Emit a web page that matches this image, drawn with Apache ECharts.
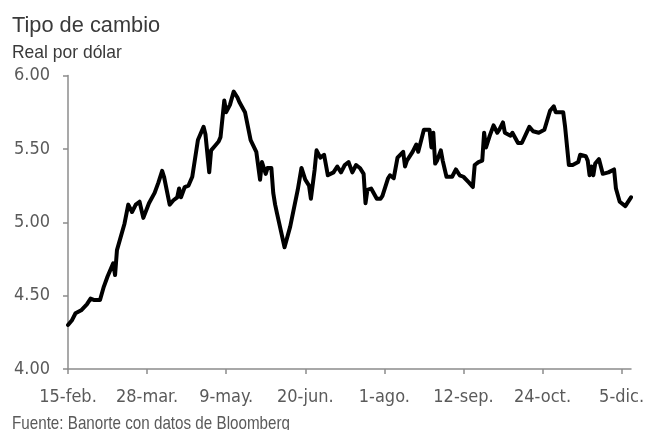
<!DOCTYPE html>
<html>
<head>
<meta charset="utf-8">
<script src="https://cdn.jsdelivr.net/npm/echarts@6/dist/echarts.min.js"></script>
<style>
  html, body { margin: 0; padding: 0; background: #fff; }
  #chart { width: 657px; height: 430px; }
</style>
</head>
<body>
<div id="chart"></div>
<script>
// Days counted from 15-feb.
const days = [
  0, 2, 4, 7, 10, 12, 13, 14, 17, 19, 21, 24, 25, 26, 27, 30, 32, 34, 36, 38,
  40, 43, 46, 48, 50, 51, 54, 56, 58, 59, 60, 62, 64, 66, 69, 72, 73, 75, 76, 78,
  80, 81, 83, 84, 86, 88, 90, 91, 94, 95, 97, 100, 102, 103, 105, 106, 108, 109, 110, 111,
  115, 118, 122, 123, 124, 126, 128, 129, 131, 132, 134, 136, 138, 139, 141, 143, 145, 147, 149, 151,
  153, 155, 157, 158, 159, 161, 164, 166, 167, 170, 171, 173, 175, 178, 179, 180, 183, 185, 186, 189,
  192, 193, 194, 195, 196, 198, 199, 201, 204, 206, 208, 210, 213, 215, 216, 218, 220, 221, 222, 224,
  226, 228, 229, 231, 232, 235, 236, 239, 241, 245, 247, 250, 253, 254, 256, 258, 259, 263, 264, 266,
  268, 271, 272, 275, 276, 277, 278, 279, 280, 282, 284, 287, 290, 291, 292, 293, 296, 297, 299
];

// Reales per US dollar
const rates = [
  4.30, 4.33, 4.38, 4.40, 4.44, 4.48, 4.49, 4.47, 4.47, 4.56, 4.63, 4.72, 4.64, 4.81, 4.82, 4.99, 5.12, 5.07, 5.12, 5.14,
  5.03, 5.13, 5.20, 5.27, 5.35, 5.31, 5.12, 5.15, 5.17, 5.23, 5.17, 5.24, 5.25, 5.31, 5.56, 5.65, 5.60, 5.34, 5.49, 5.52,
  5.55, 5.58, 5.83, 5.75, 5.80, 5.89, 5.85, 5.82, 5.75, 5.76, 5.56, 5.48, 5.29, 5.41, 5.33, 5.37, 5.37, 5.20, 5.12, 5.06,
  4.83, 4.97, 5.22, 5.23, 5.37, 5.29, 5.25, 5.16, 5.36, 5.49, 5.44, 5.46, 5.32, 5.33, 5.34, 5.38, 5.34, 5.39, 5.41, 5.34,
  5.39, 5.37, 5.33, 5.13, 5.22, 5.23, 5.16, 5.16, 5.18, 5.30, 5.32, 5.30, 5.44, 5.48, 5.38, 5.42, 5.48, 5.53, 5.48, 5.63,
  5.63, 5.51, 5.61, 5.40, 5.42, 5.49, 5.42, 5.31, 5.31, 5.36, 5.32, 5.31, 5.27, 5.24, 5.39, 5.41, 5.42, 5.61, 5.51, 5.59,
  5.66, 5.61, 5.63, 5.68, 5.61, 5.59, 5.61, 5.54, 5.54, 5.65, 5.62, 5.61, 5.63, 5.63, 5.76, 5.79, 5.75, 5.75, 5.65, 5.39,
  5.39, 5.41, 5.46, 5.45, 5.42, 5.32, 5.38, 5.32, 5.40, 5.43, 5.33, 5.34, 5.36, 5.23, 5.22, 5.14, 5.11, 5.13, 5.17
];

const tickDays = [0, 42, 84, 126, 168, 210, 252, 294];
const tickLabels = ['15-feb.', '28-mar.', '9-may.', '20-jun.', '1-ago.', '12-sep.', '24-oct.', '5-dic.'];

const NARROW = '"DejaVu Sans Condensed", "Liberation Sans Narrow", sans-serif';
const SANS = '"Liberation Sans", Arial, sans-serif';
const GREY = '#5a5a5a';
const AXIS = '#8c8c8c';

const points = days.map((d, i) => [d, rates[i]]);
const last = points.length - 1;
const seriesData = points.map((p, i) => i === last ? {
  value: p,
  label: {
    show: true,
    position: 'top',
    offset: [8, -3],
    formatter: () => rates[last].toFixed(2),
    color: GREY,
    fontFamily: NARROW,
    fontSize: 18
  }
} : p);

// Heading and source lines, set in a narrowed sans face
function heading(text, x, y, size, sx, color) {
  return {
    type: 'text', x: x, y: y, scaleX: sx, silent: true,
    style: { text: text, font: size + 'px ' + SANS, fill: color, verticalAlign: 'top', align: 'left' }
  };
}

const chart = echarts.init(document.getElementById('chart'), null, { renderer: 'canvas' });
chart.setOption({
  animation: false,
  backgroundColor: '#fff',
  graphic: [
    heading('Tipo de cambio', 12, 15, 22, 0.99, '#3a3a3a'),
    heading('Real por dólar', 12, 43, 19, 0.92, '#3a3a3a'),
    heading('Fuente: Banorte con datos de Bloomberg', 12, 414, 19, 0.8, GREY)
  ],
  grid: { left: 68, right: 26, top: 75.5, bottom: 61, containLabel: false },
  xAxis: {
    type: 'value',
    min: 0,
    max: 299,
    interval: 42,
    splitLine: { show: false },
    axisLine: { show: true, lineStyle: { color: AXIS, width: 1.5 } },
    axisTick: { show: true, length: 5, customValues: tickDays, lineStyle: { color: AXIS, width: 1.5 } },
    axisLabel: {
      customValues: tickDays,
      formatter: v => tickLabels[tickDays.indexOf(v)] || '',
      color: GREY, fontFamily: NARROW, fontSize: 18, margin: 19
    }
  },
  yAxis: {
    type: 'value',
    min: 4,
    max: 6,
    interval: 0.5,
    splitLine: { show: false },
    axisLine: { show: true, lineStyle: { color: AXIS, width: 1.5 } },
    axisTick: { show: true, length: 5, lineStyle: { color: AXIS, width: 1.5 } },
    axisLabel: {
      formatter: v => v.toFixed(2),
      color: GREY, fontFamily: NARROW, fontSize: 18, margin: 18
    }
  },
  series: [{
    type: 'line',
    data: seriesData,
    showSymbol: false,
    symbol: 'none',
    smooth: false,
    lineStyle: { color: '#000', width: 4, join: 'round', cap: 'round' },
    z: 3
  }]
});
</script>
</body>
</html>
